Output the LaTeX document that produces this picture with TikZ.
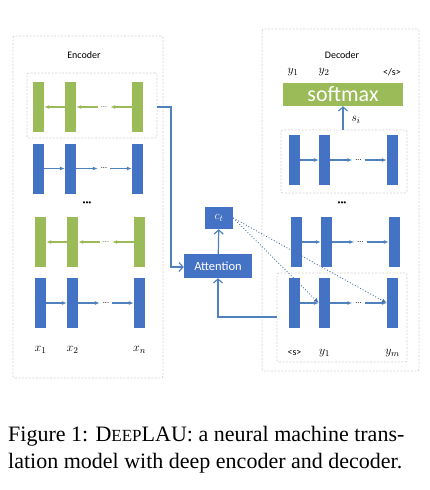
\documentclass[tikz,border=0pt]{standalone}
\usepackage{fontspec}
\setmainfont{Liberation Serif}
\setsansfont{Carlito}
\usetikzlibrary{arrows.meta}

\definecolor{barblue}{HTML}{4472C4}
\definecolor{bargreen}{HTML}{9BBB59}
\definecolor{linkblue}{HTML}{4F81BD}
\definecolor{boxgray}{HTML}{D5D2CB}
\definecolor{dotblue}{HTML}{4A6FA5}

\begin{document}
\begin{tikzpicture}[x=1pt, y=-1pt,
    bar/.style={rectangle, fill=barblue, inner sep=0pt, minimum width=11pt, minimum height=50pt},
    gbar/.style={bar, fill=bargreen},
    dbox/.style={draw=boxgray, line width=0.8pt, dash pattern=on 2pt off 1.5pt, rounded corners=2pt, inner sep=0pt},
    flow/.style={-{Latex[length=5pt,width=4pt]}, linkblue, line width=1.3pt},
    link/.style={-{Straight Barb[length=4pt,width=9pt]}, linkblue, line width=1.2pt},
    hdots/.style={font=\sffamily\fontsize{8}{8}\selectfont, inner sep=3pt},
    vdots/.style={font=\sffamily\fontsize{6}{6}\selectfont, inner sep=1pt},
    lbl/.style={font=\sffamily\fontsize{10}{12}\selectfont, inner sep=1pt},
    mlbl/.style={font=\fontsize{13}{13}\selectfont, inner sep=1pt},
    bluebox/.style={rectangle, fill=barblue, text=white, inner sep=0pt}]
    \useasboundingbox (0,0) rectangle (429,490);

    % Encoder
    \node[dbox, minimum width=150pt, minimum height=342pt] (encbox) at (88,207) {};
    \node[lbl] (enclabel) at (84,55) {Encoder};
    \node[dbox, minimum width=130pt, minimum height=65pt] (encgru) at (92,105.5) {};

    \node[gbar] (eg1) at (38.5,107) {};
    \node[gbar] (eg2) at (70.5,107) {};
    \node[gbar] (eg3) at (137.5,107) {};
    \node[hdots, text=bargreen!60!black] (egd) at (104,107) {...};
    \draw[flow, bargreen] (eg3) -- (egd);
    \draw[flow, bargreen] (egd) -- (eg2);
    \draw[flow, bargreen] (eg2) -- (eg1);

    \node[bar] (eb1) at (38.5,168.5) {};
    \node[bar] (eb2) at (70.5,168.5) {};
    \node[bar] (eb3) at (137.5,168.5) {};
    \node[hdots] (ebd) at (104,168.5) {...};
    \draw[flow] (eb1) -- (eb2);
    \draw[flow] (eb2) -- (ebd);
    \draw[flow] (ebd) -- (eb3);

    \node[vdots] (evdots) at (87,203) {•••};

    \node[gbar] (ef1) at (40.5,242) {};
    \node[gbar] (ef2) at (72.5,242) {};
    \node[gbar] (ef3) at (139.5,242) {};
    \node[hdots, text=bargreen!60!black] (efd) at (106,242) {...};
    \draw[flow, bargreen] (ef3) -- (efd);
    \draw[flow, bargreen] (efd) -- (ef2);
    \draw[flow, bargreen] (ef2) -- (ef1);

    \node[bar] (ex1) at (40.5,303) {};
    \node[bar] (ex2) at (72.5,303) {};
    \node[bar] (ex3) at (139.5,303) {};
    \node[hdots] (exd) at (106,303) {...};
    \draw[flow] (ex1) -- (ex2);
    \draw[flow] (ex2) -- (exd);
    \draw[flow] (exd) -- (ex3);

    \node[mlbl] (lx1) at (40.5,350) {$x_1$};
    \node[mlbl] (lx2) at (72.5,350) {$x_2$};
    \node[mlbl] (lxn) at (139.5,350) {$x_n$};

    % Attention
    \node[bluebox, minimum width=68pt, minimum height=24pt, font=\sffamily\fontsize{12.5}{14}\selectfont] (att) at (218,266) {Attention};
    \node[bluebox, minimum width=28pt, minimum height=22pt, font=\fontsize{13}{13}\selectfont] (ct) at (219,218) {$c_t$};
    \draw[link] (att) -- (ct);
    \draw[link] (encgru.east |- eg3) -- (171,107) -- (171,267) -- (att.west |- 0,267);

    % Decoder
    \node[dbox, minimum width=157pt, minimum height=342pt] (decbox) at (340.5,200) {};
    \node[lbl] (declabel) at (342,55) {Decoder};
    \node[mlbl] (ly1top) at (293,72) {$y_1$};
    \node[mlbl] (ly2top) at (324,72) {$y_2$};
    \node[lbl] (leos) at (392,72) {</s>};
    \node[rectangle, fill=bargreen, text=white, inner sep=0pt, minimum width=120pt, minimum height=23pt, font=\sffamily\fontsize{22}{22}\selectfont] (softmax) at (343,94.5) {softmax};

    \node[dbox, minimum width=126pt, minimum height=63pt] (decup) at (344,161.5) {};
    \draw[link] (decup.north -| softmax) -- (softmax);
    \node[mlbl] (si) at (356,120) {$s_i$};

    \node[bar] (du1) at (294,160) {};
    \node[bar] (du2) at (324.5,160) {};
    \node[bar] (du3) at (392.5,160) {};
    \node[hdots] (dud) at (358.5,160) {...};
    \draw[flow] (du1) -- (du2);
    \draw[flow] (du2) -- (dud);
    \draw[flow] (dud) -- (du3);

    \node[vdots] (dvdots) at (342,203) {•••};

    \node[bar] (dm1) at (296.5,242) {};
    \node[bar] (dm2) at (326.5,242) {};
    \node[bar] (dm3) at (394.5,242) {};
    \node[hdots] (dmd) at (360.5,242) {...};
    \draw[flow] (dm1) -- (dm2);
    \draw[flow] (dm2) -- (dmd);
    \draw[flow] (dmd) -- (dm3);

    \node[dbox, minimum width=130pt, minimum height=89pt] (declow) at (342,317.5) {};
    \node[bar] (dl1) at (294.5,303) {};
    \node[bar] (dl2) at (324.5,303) {};
    \node[bar] (dl3) at (392.5,303) {};
    \node[hdots] (dld) at (358.5,303) {...};
    \draw[flow] (dl1) -- (dl2);
    \draw[flow] (dl2) -- (dld);
    \draw[flow] (dld) -- (dl3);

    \node[lbl] (lsos) at (294.5,353) {<s>};
    \node[mlbl] (ly1) at (324.5,353) {$y_1$};
    \node[mlbl] (lym) at (392.5,353) {$y_m$};

    % Attention links
    \draw[link] (declow.west |- 0,317) -- (att |- 0,317) -- (att);
    \draw[dotblue, dotted, line width=0.9pt, -{Latex[length=5pt,width=4pt]}] (ct.east) -- (dl2.west);
    \draw[dotblue, dotted, line width=0.9pt, -{Latex[length=5pt,width=4pt]}] (ct.east) -- (dl3.west);

    % Caption
    \node[anchor=base west, align=left, inner sep=0pt, font=\fontsize{22}{27}\selectfont] (caption) at (8,468)
        {Figure 1: D{\fontsize{17}{17}\selectfont EEP}LAU: a neural machine trans-\\lation model with deep encoder and decoder.};

\end{tikzpicture}
\end{document}
